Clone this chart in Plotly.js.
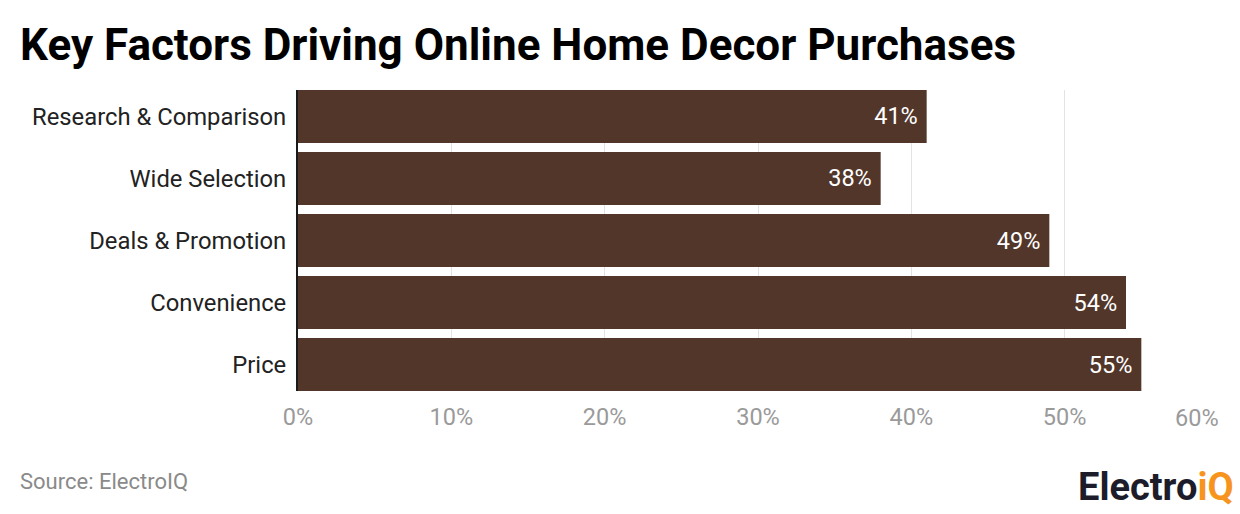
<!DOCTYPE html>
<html>
<head>
<meta charset="utf-8">
<script src="https://cdn.plot.ly/plotly-3.0.1.min.js"></script>
<style>
  html, body { margin: 0; padding: 0; background: #ffffff; }
  #chart { width: 1240px; height: 514px; }
</style>
</head>
<body>
<div id="chart"></div>
<script>
const categories = ["Research & Comparison", "Wide Selection", "Deals & Promotion", "Convenience", "Price"];
const shares = [41, 38, 49, 54, 55];
const tickValues = [0, 10, 20, 30, 40, 50, 60];
const tickLabels = ["0%", "10%", "20%", "30%", "40%", "50%", ""];
const lastTickLabel = "60%";

const trace = {
  type: "bar",
  orientation: "h",
  y: categories,
  x: shares,
  marker: { color: "#523629" },
  text: shares.map(v => v + "%\u00a0"),
  textposition: "inside",
  insidetextanchor: "end",
  textfont: { family: "Roboto, sans-serif", size: 23.5, color: "#ffffff" },
  hoverinfo: "skip",
  cliponaxis: false
};

const layout = {
  width: 1240,
  height: 514,
  margin: { l: 298, r: 22, t: 90, b: 123 },
  paper_bgcolor: "#ffffff",
  plot_bgcolor: "#ffffff",
  showlegend: false,
  bargap: 0.145,
  title: {
    text: "<b>Key Factors Driving Online Home Decor Purchases</b>",
    font: { family: "Roboto, sans-serif", size: 44, color: "#000000" },
    x: 20/1240, xanchor: "left", xref: "container",
    y: 1 - 45/514, yanchor: "middle", yref: "container"
  },
  xaxis: {
    range: [0, 60],
    tickvals: tickValues,
    ticktext: tickLabels,
    showgrid: true,
    gridcolor: "#e3e3e3",
    gridwidth: 1,
    zeroline: false,
    showline: false,
    ticks: "",
    ticklabelstandoff: 9,
    tickfont: { family: "Roboto, sans-serif", size: 23.5, color: "#9a9a9a" },
    fixedrange: true
  },
  yaxis: {
    range: [4.427, -0.427],
    showgrid: false,
    zeroline: false,
    showline: true,
    linecolor: "#1a1a1a",
    linewidth: 2,
    ticks: "",
    ticklabelstandoff: 5,
    tickfont: { family: "Roboto, sans-serif", size: 23.8, color: "#222222" },
    fixedrange: true
  },
  annotations: [
    {
      text: lastTickLabel,
      xref: "x", yref: "paper",
      x: 60, y: 0, yshift: -27, xshift: 3,
      xanchor: "right", yanchor: "middle",
      showarrow: false,
      font: { family: "Roboto, sans-serif", size: 23.5, color: "#9a9a9a" }
    },
    {
      text: "Source: ElectroIQ",
      xref: "paper", yref: "paper",
      x: -280/920, y: -90/301,
      xanchor: "left", yanchor: "middle",
      showarrow: false,
      font: { family: "Roboto, sans-serif", size: 22, color: "#8a8a8a" }
    },
    {
      text: "<b><span style='color:#1c1c2b'>Electro</span><span style='color:#f7941d'>iQ</span></b>",
      xref: "paper", yref: "paper",
      x: 1 + 18/920, y: -96/301,
      xanchor: "right", yanchor: "middle",
      showarrow: false,
      font: { family: "Roboto, sans-serif", size: 38, color: "#1c1c2b" }
    }
  ]
};

Plotly.newPlot("chart", [trace], layout, { displayModeBar: false, staticPlot: true });
</script>
</body>
</html>
